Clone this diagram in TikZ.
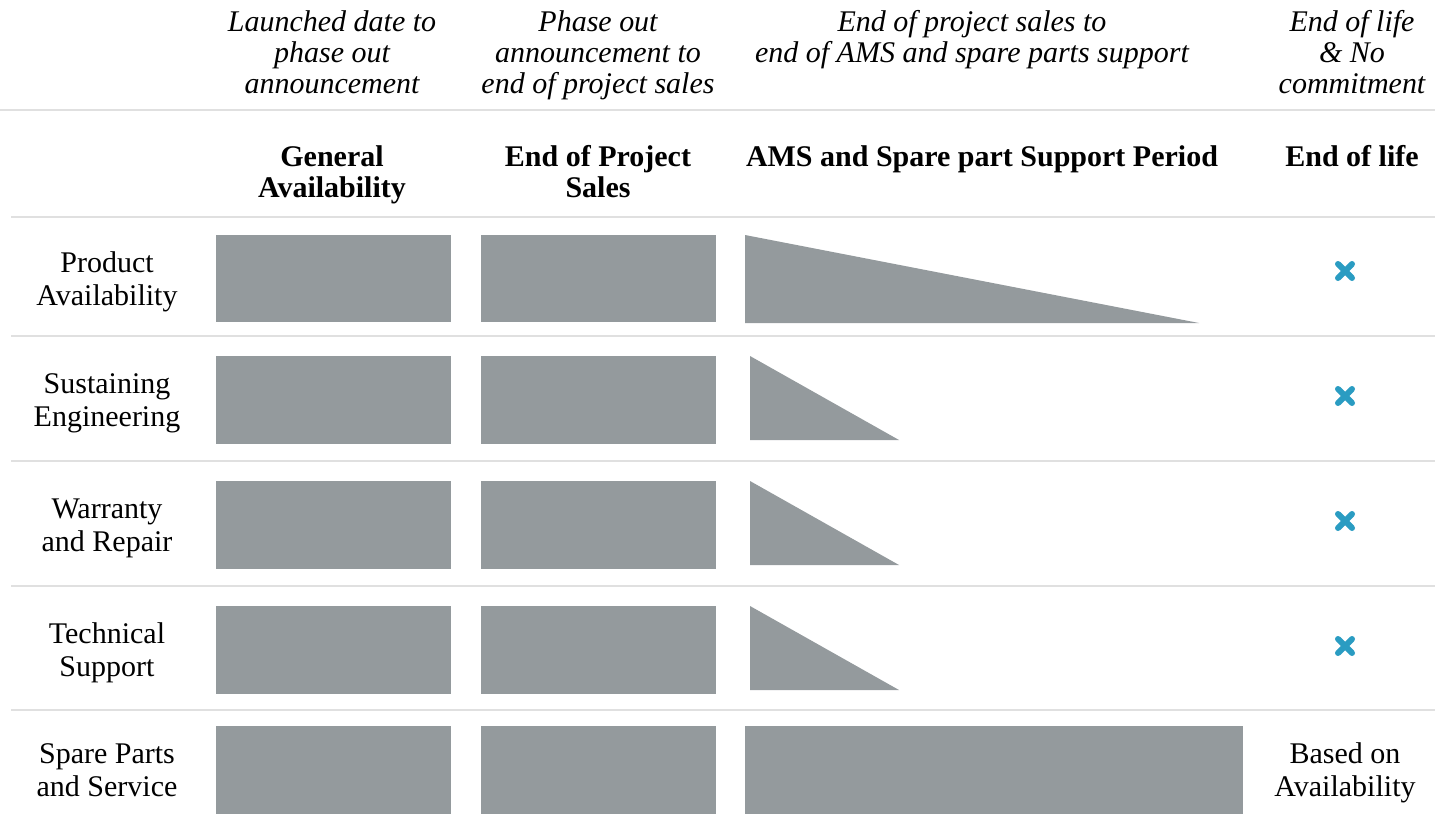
\documentclass[tikz,border=0pt]{standalone}
\usepackage{fontspec}
\setmainfont{Liberation Serif}
\definecolor{barfill}{HTML}{949A9D}
\definecolor{rulegray}{HTML}{E0E0E0}
\definecolor{xblue}{HTML}{2A9CC2}
\newcommand{\mlines}[1]{\begin{tabular}[t]{@{}c@{}}#1\end{tabular}}
\begin{document}
\begin{tikzpicture}[x=1pt,y=-1pt,
  barbox/.style={fill=barfill, draw=none, inner sep=0pt, minimum width=235pt},
  wedge/.style={fill=barfill, draw=none},
  seprule/.style={draw=rulegray, line width=2pt},
  hdrit/.style={font=\fontsize{30}{31}\selectfont\itshape, anchor=base, inner sep=0pt},
  hdrbf/.style={font=\fontsize{30}{31.5}\selectfont\bfseries, anchor=base, inner sep=0pt},
  rowlabel/.style={font=\fontsize{30}{33}\selectfont, anchor=base, inner sep=0pt},
  xicon/.style={draw=xblue, line width=6pt, line cap=round}]
\useasboundingbox (0,0) rectangle (1435,824);

% separator rules
\draw[seprule] (0,110) -- (1435,110);
\draw[seprule] (11,217) -- (1435,217);
\draw[seprule] (11,336) -- (1435,336);
\draw[seprule] (11,461) -- (1435,461);
\draw[seprule] (11,586) -- (1435,586);
\draw[seprule] (11,710) -- (1435,710);

% italic headers
\node[hdrit] (h1) at (332,31.5) {\mlines{Launched date to\\ phase out\\ announcement}};
\node[hdrit] (h2) at (598,31.5) {\mlines{Phase out\\ announcement to\\ end of project sales}};
\node[hdrit] (h3) at (972,31.5) {\mlines{End of project sales to\\ end of AMS and spare parts support}};
\node[hdrit] (h4) at (1352,31.5) {\mlines{End of life\\ \& No\\ commitment}};

% bold headers
\node[hdrbf] (b1) at (332,166.5) {\mlines{General\\ Availability}};
\node[hdrbf] (b2) at (598,166.5) {\mlines{End of Project\\ Sales}};
\node[hdrbf] (b3) at (982,166.5) {AMS and Spare part Support Period};
\node[hdrbf] (b4) at (1352,166.5) {End of life};

% row labels
\node[rowlabel] (l1) at (107,272) {\mlines{Product\\ Availability}};
\node[rowlabel] (l2) at (107,393.5) {\mlines{Sustaining\\ Engineering}};
\node[rowlabel] (l3) at (107,518.5) {\mlines{Warranty\\ and Repair}};
\node[rowlabel] (l4) at (107,643.5) {\mlines{Technical\\ Support}};
\node[rowlabel] (l5) at (107,763.5) {\mlines{Spare Parts\\ and Service}};

% column 1 and 2 bars
\node[barbox, minimum height=87pt] (r1a) at (333.5,278.5) {};
\node[barbox, minimum height=87pt] (r1b) at (598.5,278.5) {};
\node[barbox, minimum height=88pt] (r2a) at (333.5,400) {};
\node[barbox, minimum height=88pt] (r2b) at (598.5,400) {};
\node[barbox, minimum height=88pt] (r3a) at (333.5,525) {};
\node[barbox, minimum height=88pt] (r3b) at (598.5,525) {};
\node[barbox, minimum height=88pt] (r4a) at (333.5,650) {};
\node[barbox, minimum height=88pt] (r4b) at (598.5,650) {};
\node[barbox, minimum height=88pt] (r5a) at (333.5,770) {};
\node[barbox, minimum height=88pt] (r5b) at (598.5,770) {};

% column 3 shapes
\fill[wedge] (745,235) -- (1199,323) -- (745,323) -- cycle;
\fill[wedge] (750,356) -- (899,440) -- (750,440) -- cycle;
\fill[wedge] (750,481) -- (899,565) -- (750,565) -- cycle;
\fill[wedge] (750,606) -- (899,690) -- (750,690) -- cycle;
\node[barbox, minimum width=498pt, minimum height=88pt] (r5c) at (994,770) {};

% column 4
\coordinate (x1) at (1345,271);
\coordinate (x2) at (1345,396);
\coordinate (x3) at (1345,521);
\coordinate (x4) at (1345,646);
\foreach \c in {x1,x2,x3,x4}{
  \draw[xicon] ([shift={(-7,-7)}]\c) -- ([shift={(7,7)}]\c)
               ([shift={(-7,7)}]\c) -- ([shift={(7,-7)}]\c);
}
\node[rowlabel] (l5d) at (1345,763.5) {\mlines{Based on\\ Availability}};
\end{tikzpicture}
\end{document}
